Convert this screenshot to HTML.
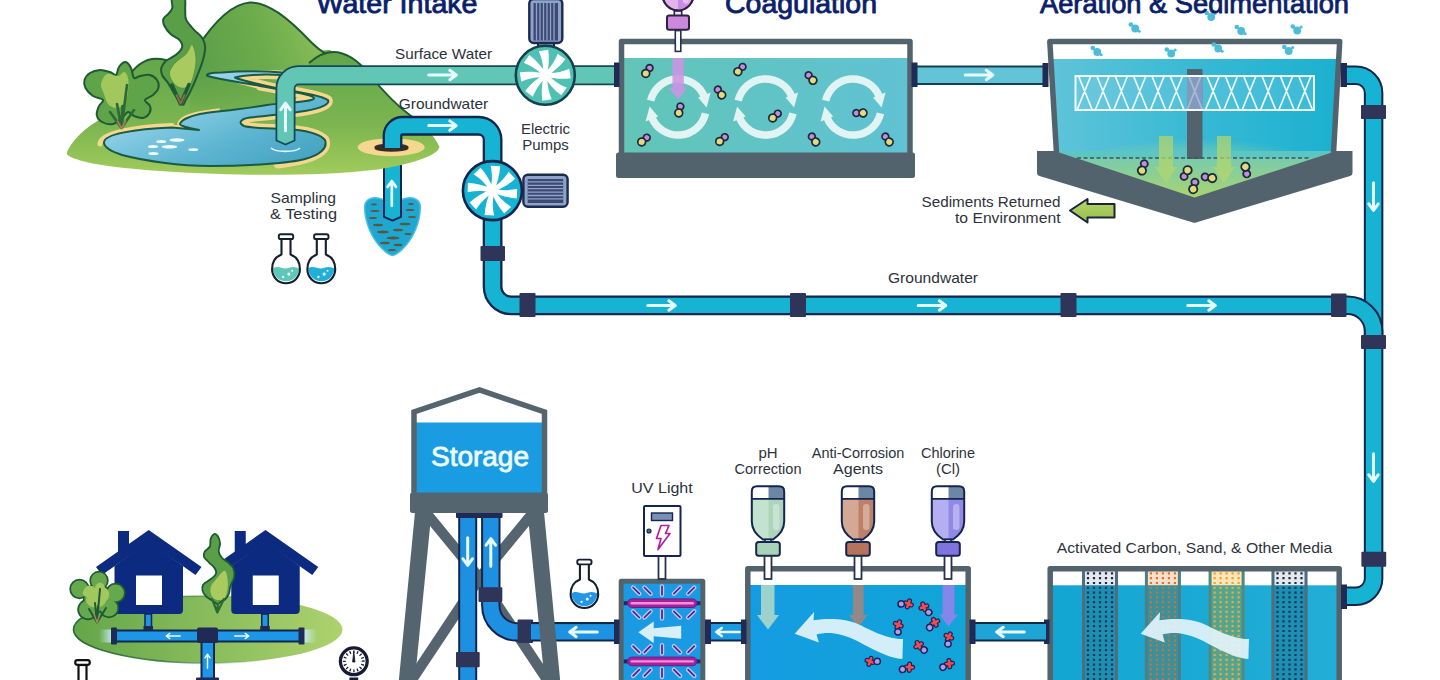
<!DOCTYPE html>
<html lang="en"><head><meta charset="utf-8"><title>Water Treatment Process</title>
<style>
html,body{margin:0;padding:0;background:#fff;overflow:hidden}
svg{display:block}
text{font-family:"Liberation Sans",sans-serif}
.lbl{font-size:15px;fill:#2d323c}
.ttl{font-size:28.500px;fill:#0c1f6b;stroke:#0c1f6b;stroke-width:.9px;stroke-linejoin:round}
</style></head><body>
<svg width="1440" height="680" viewBox="0 0 1440 680">
<defs>
<linearGradient id="gGround" gradientUnits="userSpaceOnUse" x1="0" y1="55" x2="0" y2="175"><stop offset="0" stop-color="#62a54a"/><stop offset=".6" stop-color="#7db650"/><stop offset="1" stop-color="#a2cb5c"/></linearGradient>
<linearGradient id="gHill" gradientUnits="userSpaceOnUse" x1="195" y1="60" x2="320" y2="20"><stop offset="0" stop-color="#5b9f49"/><stop offset=".55" stop-color="#6eac4d"/><stop offset="1" stop-color="#8abf57"/></linearGradient>
<linearGradient id="gLake" x1="0" y1="0" x2="1" y2="1"><stop offset="0" stop-color="#c2e8f6"/><stop offset=".3" stop-color="#93d2e8"/><stop offset=".65" stop-color="#5cb5d1"/><stop offset="1" stop-color="#3f9fbd"/></linearGradient>
<linearGradient id="gCoag" x1="0" y1="0" x2="1" y2="0"><stop offset="0" stop-color="#62c5b7"/><stop offset="1" stop-color="#60c2d3"/></linearGradient>
<linearGradient id="gAer" x1="0" y1="0" x2="1" y2="0"><stop offset="0" stop-color="#5fc4d9"/><stop offset=".5" stop-color="#38b9d4"/><stop offset="1" stop-color="#1bb1d0"/></linearGradient>
<linearGradient id="gSed" x1="0" y1="0" x2="0" y2="1"><stop offset="0" stop-color="#6fcab8"/><stop offset="1" stop-color="#a9d46f"/></linearGradient>
<linearGradient id="gChem" x1="0" y1="0" x2="1" y2="0"><stop offset="0" stop-color="#149ce2"/><stop offset="1" stop-color="#12a5d8"/></linearGradient>
<linearGradient id="gFilt" x1="0" y1="0" x2="1" y2="0"><stop offset="0" stop-color="#13a5d2"/><stop offset="1" stop-color="#22aed6"/></linearGradient>
<linearGradient id="gLawn" x1="0" y1="0" x2="1" y2="0"><stop offset="0" stop-color="#64a64a"/><stop offset="1" stop-color="#add26d"/></linearGradient>
<linearGradient id="gSedArr" x1="0" y1="0" x2="0" y2="1"><stop offset="0" stop-color="#b7d466"/><stop offset="1" stop-color="#97bf4e"/></linearGradient>
<g id="arr"><path d="M-14.300,0H12M6.800,-4.700L13.300,0L6.800,4.700" stroke="#e6fbff" stroke-width="3" fill="none" stroke-linecap="round" stroke-linejoin="round"/></g>
<g id="arrs"><path d="M-9,0H8M4,-3.2L8.5,0L4,3.2" stroke="#eefcff" stroke-width="1.8" fill="none" stroke-linecap="round" stroke-linejoin="round"/></g>
<g id="blades" fill="#fff">
<circle r="4.2"/><path id="bl" d="M-2.300,0C-1,-9 -2.500,-17 -5.200,-24.300L4.300,-25.300C5,-17 4,-9 1.700,0Z"/>
<use href="#bl" transform="rotate(45)"/><use href="#bl" transform="rotate(90)"/><use href="#bl" transform="rotate(135)"/><use href="#bl" transform="rotate(180)"/><use href="#bl" transform="rotate(225)"/><use href="#bl" transform="rotate(270)"/><use href="#bl" transform="rotate(315)"/>
</g>
<g id="pp"><circle cx="1.9" cy="-2.8" r="3.1" fill="#c88ae0" stroke="#1b2a3a" stroke-width="1.6"/><circle cx="-1.6" cy="2.3" r="3.6" fill="#e3da7e" stroke="#1b2a3a" stroke-width="1.6"/></g>
<g id="mol"><path d="M3.800,-3.200V3.200M.600,0H7" stroke="#16245c" stroke-width="5" stroke-linecap="round" transform="rotate(20 3.800 0)"/><path d="M3.800,-3.200V3.200M.600,0H7" stroke="#f04b50" stroke-width="2.700" stroke-linecap="round" transform="rotate(20 3.800 0)"/><circle cx="-3.400" cy="0" r="3.200" fill="#b79ae8" stroke="#16245c" stroke-width="1.500"/></g>
<pattern id="dotD" width="4.25" height="4.25" patternUnits="userSpaceOnUse"><rect x="1" y="1" width="2.2" height="2.2" fill="#27314f"/></pattern>
<pattern id="dotO" width="4.25" height="4.25" patternUnits="userSpaceOnUse"><rect x="1" y="1" width="2.2" height="2.2" fill="#e8743c"/></pattern>
<pattern id="dotY" width="4.25" height="4.25" patternUnits="userSpaceOnUse"><rect x="1" y="1" width="2.2" height="2.2" fill="#f2a22c"/></pattern>
<radialGradient id="gGlow" cx=".5" cy=".5" r=".5"><stop offset="0" stop-color="#b4d878" stop-opacity=".75"/><stop offset=".6" stop-color="#a6d68a" stop-opacity=".35"/><stop offset="1" stop-color="#9ad4a0" stop-opacity="0"/></radialGradient>
<linearGradient id="gLawnS" x1="0" y1="0" x2="1" y2="0"><stop offset="0" stop-color="#2a6a32"/><stop offset=".35" stop-color="#2a6a32" stop-opacity=".8"/><stop offset=".75" stop-color="#5a9a40" stop-opacity="0"/></linearGradient>
<linearGradient id="gGlowL" x1="0" y1="0" x2="1" y2="0"><stop offset="0" stop-color="#c8ecff" stop-opacity="0"/><stop offset="1" stop-color="#c8ecff" stop-opacity=".95"/></linearGradient><linearGradient id="gGlowR" x1="1" y1="0" x2="0" y2="0"><stop offset="0" stop-color="#c8ecff" stop-opacity="0"/><stop offset="1" stop-color="#c8ecff" stop-opacity=".95"/></linearGradient>
<linearGradient id="gFade" gradientUnits="userSpaceOnUse" x1="0" y1="62" x2="0" y2="118"><stop offset="0" stop-color="#fff"/><stop offset="1" stop-color="#000"/></linearGradient><mask id="mFade" maskUnits="userSpaceOnUse" x="60" y="-5" width="400" height="190"><rect x="60" y="-5" width="400" height="190" fill="url(#gFade)"/></mask>
</defs>
<rect width="1440" height="680" fill="#fff"/>
<!-- underground pipe & aquifer -->
<path d="M364.700,207C364.700,199 373,195.500 383,199.500H402C412,195.500 420.300,199 420.300,207C420.300,222 413.500,238 403,248.500C398,253.500 394.500,255.200 392.400,255.400C390.500,255.200 387,253.500 382,248.500C371.500,238 364.700,222 364.700,207Z" fill="#1fa6d1" stroke="#45bfe2" stroke-width="1.500"/>
<g fill="#58583c"><ellipse cx="375" cy="211" rx="4.500" ry="1.100"/><ellipse cx="373" cy="218" rx="4" ry="1.100"/><ellipse cx="410" cy="210" rx="4.500" ry="1.100"/><ellipse cx="412" cy="217" rx="4" ry="1.100"/><ellipse cx="378" cy="225" rx="5" ry="1.300"/><ellipse cx="405" cy="224" rx="5.500" ry="1.300"/><ellipse cx="383" cy="232" rx="6" ry="1.400"/><ellipse cx="398" cy="230" rx="5" ry="1.300"/><ellipse cx="393" cy="238" rx="6.500" ry="1.400"/><ellipse cx="385" cy="243" rx="5" ry="1.200"/><ellipse cx="398" cy="245" rx="4.500" ry="1.200"/><ellipse cx="392" cy="250" rx="4" ry="1.100"/><ellipse cx="374" cy="204.500" rx="3" ry="1"/><ellipse cx="411" cy="204" rx="3" ry="1"/><ellipse cx="408" cy="234" rx="3.500" ry="1.100"/></g>
<path d="M384,165V216.800L392.500,220.600L401,216.800V165" fill="#16b3d3" stroke="#12264e" stroke-width="2" stroke-linejoin="round"/>
<use href="#arr" transform="translate(391.800,193) rotate(-90) scale(.900)"/>
<!-- ===== landscape ===== -->
<g id="landscape">
<path d="M67,152C72,140 86,127 101,119L135,100L200,60L330,50L385,100L439.500,147C437,157 406,165 378,169.500C336,174.500 280,175.500 240,174.500C170,173 100,168 76,159C70,157 66,155 67,152Z" fill="url(#gGround)"/>
<!-- mid small hill -->
<path d="M100,122C112,96 130,62 152,59C168,57 190,68 205,85L205,125Z" fill="url(#gGround)"/>
<path d="M118,92C128,74 140,60.500 152,59C160,58 168,60 176,64" fill="none" stroke="#1f5a34" stroke-width="2"/>
<!-- big hill -->
<path d="M190,60C205,35 228,4 250,2.500C268,2 288,18 310,41C316,47 321,51 326,54.500L340,120L190,120Z" fill="url(#gHill)" mask="url(#mFade)"/>
<path d="M309,63C317,56 325,52 333,52C346,52 358,60 370,75C382,90 396,105 411,116C424,125 434,135 439.500,147L330,150L300,100Z" fill="url(#gGround)"/>
<path d="M197,48C210,28 230,4 250,2.500C268,2 288,18 310,41C316,47 321,51 326,54" fill="none" stroke="#1f5a34" stroke-width="2"/>
<path d="M309,63C317,56 325,52 333,52C346,52 358,60 370,75C382,90 396,105 411,116C418,121 424,126 428,131" fill="none" stroke="#1f5a34" stroke-width="2"/>
<!-- sand around lake -->
<path d="M100,144C100,133 135,127 172,125.500" fill="none" stroke="#f3d78d" stroke-width="5" stroke-linecap="round"/>
<path d="M104,142.500C104,134 135,129 172,127.500L199,130C190,128 180,126 180,124C181,120 190,116 200,114C206,113 212,112 220,111" fill="none" stroke="#f3d78d" stroke-width="5.500" stroke-linejoin="round"/>
<path d="M300,100.500C308,100 314,100 314,98.500C315,95.500 295,92 260,86M282,75C262,74 245,75 235,77.500C240,80 250,82.500 280,89C300,92 322,96 328,100C330,104 322,108 305,111C290,113.500 270,115.500 250,117.500C240,119 238,123 244,126C250,128 270,128.500 285,129C305,130 320,134 325,140C328,148 320,155 305,159C298,161 290,162.500 278,164" fill="none" stroke="#f3d78d" stroke-width="9" stroke-linejoin="round" stroke-linecap="round"/>
<!-- lake -->
<path d="M104,142.500C104,134 135,129 172,127.500L199,130C190,128 180,126 180,124C181,120 190,116 200,114C212,112 235,110 267,105C290,102 312,102 314,98.500C315,95.500 295,92 260,86C240,82 222,80 207.500,76C205,74 212,72.500 222,72.500C240,71 262,71 282,72.500L282,75C262,74 245,75 235,77.500C240,80 250,82.500 280,89C300,92 322,96 328,100C330,104 322,108 305,111C290,113.500 270,115.500 250,117.500C240,119 238,123 244,126C250,128 270,128.500 285,129C305,130 320,134 325,140C328,148 320,155 305,159C290,163 250,166 210,166C180,166 145,161 122,155C110,151 104,147 104,142.500Z" fill="url(#gLake)" stroke="#1a5a44" stroke-width="2" stroke-linejoin="round"/>
<g fill="#eefaff"><ellipse cx="177" cy="140" rx="7.500" ry="1.700"/><ellipse cx="161.200" cy="141.500" rx="5" ry="1.500"/><ellipse cx="153" cy="146.400" rx="5" ry="1.500"/><ellipse cx="169.400" cy="146.800" rx="7.800" ry="1.800"/><ellipse cx="193.300" cy="149.700" rx="5" ry="1.400"/><ellipse cx="153.500" cy="153.500" rx="5" ry="1.500"/></g>
<!-- tall tree -->
<path d="M181.2,104.0C178.2,101.3 171.4,88.2 168.3,83.4C165.2,78.7 163.6,78.2 162.4,75.5C161.2,72.8 160.8,70.0 161.4,67.5C162.1,65.0 163.8,62.8 166.3,60.6C168.8,58.5 173.7,56.9 176.3,54.6C179.0,52.3 181.7,49.2 182.2,46.7C182.7,44.2 181.2,41.9 179.2,39.7C177.2,37.6 172.8,36.1 170.3,33.8C167.8,31.5 165.6,28.3 164.4,25.8C163.2,23.3 162.8,20.9 163.4,18.9C164.1,16.9 166.8,15.7 168.3,13.9C169.8,12.1 171.6,10.7 172.3,7.9C173.0,5.1 170.3,-1.2 172.3,-3.0C174.3,-4.8 182.0,-5.2 184.2,-3.0C186.3,-0.9 184.9,6.1 185.2,9.9C185.5,13.7 184.7,16.6 186.2,19.9C187.7,23.2 191.4,26.8 194.1,29.8C196.8,32.8 200.3,34.9 202.1,37.7C203.9,40.5 204.9,43.1 205.1,46.7C205.3,50.4 204.3,55.1 203.1,59.6C201.9,64.1 199.8,69.2 198.1,73.5C196.4,77.8 195.2,81.1 193.2,85.4C191.2,89.7 188.2,96.2 186.2,99.3C184.2,102.4 184.2,106.7 181.2,104.0Z" fill="#5a9f48" stroke="#1f5a34" stroke-width="2" stroke-linejoin="round"/>
<path d="M192.2,44.7C190.5,43.8 188.9,51.0 186.0,54.0C183.1,57.0 177.8,59.8 175.0,63.0C172.2,66.2 169.4,70.0 169.3,73.5C169.2,77.0 172.4,81.6 174.3,84.0C176.2,86.4 178.9,87.5 181.0,88.0C183.1,88.5 185.1,88.4 187.0,87.0C188.9,85.6 191.0,84.0 192.5,79.4C194.0,74.8 196.2,65.4 196.1,59.6C196.0,53.8 193.9,45.6 192.2,44.7Z" fill="#a9ca5e" stroke="#4c8a3e" stroke-width=".800"/>
<path d="M180.500,104L172,85M180.500,104L189,84.500" stroke="#1f5a34" stroke-width="3.600" stroke-linecap="round" fill="none"/>
<path d="M180.500,103.500L176.500,95M180.500,103.500L184.500,95" stroke="#94694a" stroke-width="1.800" stroke-linecap="round" fill="none"/>
<!-- bush -->
<path d="M125.6,62.0C127.6,62.2 129.6,65.3 131.0,68.0C132.4,70.7 132.5,76.7 134.0,78.0C135.5,79.3 137.3,76.5 140.0,76.0C142.7,75.5 147.2,74.3 150.0,75.0C152.8,75.7 155.6,77.8 157.0,80.0C158.4,82.2 159.1,85.5 158.4,88.0C157.7,90.5 155.2,93.0 153.0,95.0C150.8,97.0 145.5,98.2 145.0,100.0C144.5,101.8 149.2,103.8 150.0,106.0C150.8,108.2 150.7,111.0 149.5,113.0C148.3,115.0 145.6,117.5 143.0,118.0C140.4,118.5 136.5,117.0 134.0,116.0C131.5,115.0 130.0,111.7 128.0,112.0C126.0,112.3 124.5,116.0 122.0,118.0C119.5,120.0 116.3,123.3 113.0,124.0C109.7,124.7 104.7,123.5 102.0,122.0C99.3,120.5 97.3,117.7 96.8,115.0C96.3,112.3 98.0,108.5 99.0,106.0C100.0,103.5 104.0,101.7 103.0,100.0C102.0,98.3 95.9,98.0 93.0,96.0C90.1,94.0 86.9,90.7 85.5,88.0C84.1,85.3 83.8,82.5 84.5,80.0C85.2,77.5 87.4,74.7 90.0,73.0C92.6,71.3 96.7,70.2 100.0,70.0C103.3,69.8 107.3,71.2 110.0,72.0C112.7,72.8 114.5,75.8 116.0,75.0C117.5,74.2 117.4,69.2 119.0,67.0C120.6,64.8 123.6,61.8 125.6,62.0Z" fill="#5fa449" stroke="#1f5a34" stroke-width="2" stroke-linejoin="round"/>
<path d="M107.0,74.0C109.8,72.7 115.2,76.3 118.0,76.0C120.8,75.7 122.3,71.7 124.0,72.0C125.7,72.3 127.3,74.7 128.0,78.0C128.7,81.3 128.7,87.7 128.0,92.0C127.3,96.3 126.0,101.3 124.0,104.0C122.0,106.7 118.7,108.0 116.0,108.0C113.3,108.0 110.0,106.3 108.0,104.0C106.0,101.7 105.2,97.3 104.0,94.0C102.8,90.7 100.5,87.3 101.0,84.0C101.5,80.7 104.2,75.3 107.0,74.0Z" fill="#a2c75c"/>
<path d="M121.500,128L110,112M121.500,128L117,104M121.500,128L127,85M121.500,128L134,110M121.500,128L122.500,106" stroke="#2a6a35" stroke-width="2.600" stroke-linecap="round" fill="none"/>
<path d="M121.500,128.500L117.500,121M121.500,128.500L125.500,121" stroke="#a87a55" stroke-width="1.800" stroke-linecap="round"/>
</g>
<!-- ===== top pipes, pumps ===== -->
<g id="toppipes" fill="none" stroke-linejoin="round">
<!-- surface water pipe -->
<path d="M285.500,141V88.300A13,13 0 0 1 298.500,75.300H616" stroke="#17485a" stroke-width="20"/>
<path d="M285.500,142V88.300A13,13 0 0 1 298.500,75.300H616" stroke="#62c6b5" stroke-width="16.400"/>
<path d="M276.400,140.500L285.500,144.500L294.600,140.500" stroke="#17485a" stroke-width="1.800" fill="#62c6b5"/>
<path d="M271,148C276,152.500 295,152.500 300,148" stroke="#e9f8fd" stroke-width="1.600"/>
<!-- hole sand + hole -->
<ellipse cx="391.200" cy="147.200" rx="33.500" ry="9" fill="#f5d88f" stroke="none"/>
<ellipse cx="391.500" cy="147.200" rx="17.200" ry="3.800" fill="#3b2b26" stroke="none"/>
<!-- groundwater pipe -->
<path d="M392.500,148V135.750A10,10 0 0 1 402.500,125.750H478.600A14,14 0 0 1 492.600,139.750V286.800A18.500,18.500 0 0 0 511.100,305.300H1340" stroke="#12264e" stroke-width="19.800"/>
<path d="M392.500,148V135.750A10,10 0 0 1 402.500,125.750H478.600A14,14 0 0 1 492.600,139.750V286.800A18.500,18.500 0 0 0 511.100,305.300H1340" stroke="#16b3d3" stroke-width="15.200"/>
<path d="M375,148.200C380,151.600 403,151.600 408,148.200" stroke="#3b2b26" stroke-width="2.200"/>
</g>

<use href="#arr" transform="translate(285.500,116.500) rotate(-90)"/>
<use href="#arr" transform="translate(443,75)"/>
<use href="#arr" transform="translate(443,125.600)"/>
<use href="#arr" transform="translate(662,305.500)"/>
<use href="#arr" transform="translate(932.500,305.500)"/>
<use href="#arr" transform="translate(1202,305.500)"/>
<!-- couplings -->
<g fill="#2f3558"><rect x="480.500" y="246" width="24.500" height="15" rx="1"/><rect x="519.500" y="293" width="16" height="24" rx="1"/><rect x="790" y="293" width="16" height="24" rx="1"/><rect x="1060.500" y="293" width="16" height="24" rx="1"/></g>
<!-- motor 1 -->
<rect x="538" y="40" width="16" height="8" fill="#8da3c9" stroke="#14254f" stroke-width="2"/>
<rect x="529.300" y="-1" width="33" height="44" rx="4.500" fill="#8da3c9" stroke="#1c2a4e" stroke-width="2.400"/>
<rect x="533.500" y="3" width="24.500" height="37.500" fill="#3c4a72"/>
<path d="M536.500,3V40.500M540,3V40.500M543.500,3V40.500M547,3V40.500M550.500,3V40.500M554,3V40.500" stroke="#8da3c9" stroke-width="1.300"/>
<!-- pump 1 -->
<circle cx="545.300" cy="75.200" r="29.500" fill="#4fc0b2" stroke="#17404f" stroke-width="2.600"/>
<use href="#blades" transform="translate(545.300,75.200) rotate(-3)"/>
<!-- motor 2 -->
<rect x="523.400" y="174.800" width="44.200" height="32" rx="4.500" fill="#8da3c9" stroke="#1c2a4e" stroke-width="2.400"/>
<rect x="527.700" y="179" width="35.500" height="24" fill="#3c4a72"/>
<path d="M527.700,181.900H563.200M527.700,185.300H563.200M527.700,188.700H563.200M527.700,192.100H563.200M527.700,195.500H563.200M527.700,198.900H563.200" stroke="#8da3c9" stroke-width="1.300"/>
<!-- pump 2 -->
<circle cx="492.400" cy="190.600" r="29.500" fill="#16b3d3" stroke="#12264e" stroke-width="2.600"/>
<use href="#blades" transform="translate(492.400,190.600) rotate(8)"/>
<!-- labels -->
<text class="lbl" x="443.500" y="59" text-anchor="middle" textLength="97" lengthAdjust="spacingAndGlyphs">Surface Water</text>
<text class="lbl" x="443.500" y="109.200" text-anchor="middle" textLength="89.500" lengthAdjust="spacingAndGlyphs">Groundwater</text>
<text class="lbl" x="545.500" y="134" text-anchor="middle">Electric</text>
<text class="lbl" x="545.500" y="150" text-anchor="middle">Pumps</text>
<text class="lbl" x="303.300" y="203" text-anchor="middle" textLength="65.500" lengthAdjust="spacingAndGlyphs">Sampling</text>
<text class="lbl" x="303.500" y="219.300" text-anchor="middle" textLength="67" lengthAdjust="spacingAndGlyphs">&amp; Testing</text>
<text class="lbl" x="933" y="283" text-anchor="middle" textLength="90" lengthAdjust="spacingAndGlyphs">Groundwater</text>
<text class="ttl" x="397" y="13" text-anchor="middle" textLength="161" lengthAdjust="spacingAndGlyphs">Water Intake</text>
<!-- ===== coagulation tank ===== -->
<g id="coag">
<rect x="621" y="41" width="289" height="113" fill="#fff"/>
<rect x="623" y="58" width="285" height="96" fill="url(#gCoag)"/>
<path d="M621.500,156V41.500H910V156" fill="none" stroke="#53636e" stroke-width="5.500" stroke-linejoin="round"/>
<rect x="616" y="152.500" width="299" height="25.500" rx="2.500" fill="#53636e"/>
<!-- pipe to aeration -->
<rect x="915" y="65.500" width="130" height="19.500" fill="#143f55"/>
<rect x="915" y="67.500" width="130" height="15.500" fill="#62c4d6"/>
<use href="#arr" transform="translate(979.500,75)"/>
<rect x="614" y="62.500" width="5.500" height="24.500" fill="#1f2a55"/><rect x="911.500" y="62.500" width="6" height="24.500" fill="#1f2a55"/>
<!-- doser -->
<circle cx="678" cy="-5" r="15.400" fill="#e2b4ec" stroke="#2e2148" stroke-width="2"/>
<path d="M678,-20A15.400,15.400 0 0 1 678,10.400Z" fill="#ca8ce0"/>
<ellipse cx="686" cy="-1" rx="3.500" ry="5" fill="#edc8f5" opacity=".8"/>
<circle cx="678" cy="-5" r="15.400" fill="none" stroke="#2e2148" stroke-width="2"/>
<rect x="674.300" y="11" width="7.400" height="5" fill="#f1e6f6" stroke="#2e2148" stroke-width="1.600"/>
<rect x="667" y="15.600" width="22" height="14.200" rx="2.200" fill="#cb88dd" stroke="#2e2148" stroke-width="2"/>
<rect x="675.300" y="30.600" width="5.500" height="20.800" fill="#fff" stroke="#27324a" stroke-width="1.600"/>
<!-- circulation rings -->
<defs><g id="ring" fill="none" stroke="#eaf8f7" stroke-width="7.500" opacity=".94">
<path d="M-27.400,-6.300A28.200,28.200 0 0 1 26.200,-10.500"/>
<path d="M27.400,6.300A28.200,28.200 0 0 1 -26.200,10.500"/>
<path d="M20,-9.500L32.500,-14.500L28.500,.500Z" fill="#eaf8f7" stroke="none"/>
<path d="M-20,9.500L-32.500,14.500L-28.500,-.500Z" fill="#eaf8f7" stroke="none"/>
</g></defs>
<use href="#ring" transform="translate(678.100,107)"/><use href="#ring" transform="translate(765.600,107)"/><use href="#ring" transform="translate(853.100,107)"/>
<path d="M672.500,58H683.800V88H687L678.200,99.600L668.700,88H672.500Z" fill="#cd93e2" opacity=".88"/>

<use href="#pp" transform="translate(647.5,71) rotate(0) scale(1.080)"/><use href="#pp" transform="translate(740,69.5) rotate(10) scale(1.080)"/><use href="#pp" transform="translate(811,78) rotate(-75) scale(1.080)"/><use href="#pp" transform="translate(720,92.5) rotate(-70) scale(1.080)"/><use href="#pp" transform="translate(679.5,110) rotate(-20) scale(1.080)"/><use href="#pp" transform="translate(775,116) rotate(15) scale(1.080)"/><use href="#pp" transform="translate(860,113) rotate(-125) scale(1.080)"/><use href="#pp" transform="translate(644,140) rotate(15) scale(1.080)"/><use href="#pp" transform="translate(722,139.5) rotate(15) scale(1.080)"/><use href="#pp" transform="translate(814,139.5) rotate(-70) scale(1.080)"/><use href="#pp" transform="translate(887.5,139.5) rotate(-70) scale(1.080)"/>
<text class="ttl" x="801" y="13" text-anchor="middle" textLength="152" lengthAdjust="spacingAndGlyphs">Coagulation</text>
</g>
<!-- ===== aeration & sedimentation ===== -->
<g id="aer">
<g fill="none" stroke-linejoin="round">
<path d="M1345,75.300H1356A17.600,17.600 0 0 1 1373.600,92.900V578.600A17.600,17.600 0 0 1 1356,596.200H1345" stroke="#12264e" stroke-width="19.500"/>
<path d="M1345,75.300H1356A17.600,17.600 0 0 1 1373.600,92.900V578.600A17.600,17.600 0 0 1 1356,596.200H1345" stroke="#16b3d3" stroke-width="15.500"/>
<path d="M1338,305.300H1347.600A26,26 0 0 1 1373.600,331.300V340" stroke="#12264e" stroke-width="19.500"/>
<path d="M1336,305.300H1347.600A26,26 0 0 1 1373.600,331.300V342" stroke="#16b3d3" stroke-width="15.500"/>
</g>
<g fill="#2f3558"><rect x="1361" y="105" width="25" height="14" rx="1"/><rect x="1331" y="293.500" width="15.500" height="23.500" rx="1"/><rect x="1361" y="335" width="25" height="14" rx="1"/><rect x="1361.400" y="551.800" width="24.800" height="15" rx="1"/></g>
<use href="#arr" transform="translate(1373.500,197) rotate(90)"/>
<use href="#arr" transform="translate(1373.500,468) rotate(90)"/>
<path d="M1049,41.500H1340.500L1334,153H1057Z" fill="#fff"/>
<path d="M1051,59H1338.500L1333.500,153H1056.500Z" fill="url(#gAer)"/>
<clipPath id="aerclip"><path d="M1051,59H1338.500L1333.500,153H1056.500Z"/></clipPath>
<ellipse cx="1195" cy="168" rx="125" ry="30" fill="url(#gGlow)" clip-path="url(#aerclip)"/>
<path d="M1037,151H1352.500V173Q1352.500,175.500 1350,176L1196,222.500Q1194.500,223 1193,222.500L1039.500,176Q1037,175.500 1037,173Z" fill="#53636e"/>
<path d="M1055,151H1336L1194.500,197.500Z" fill="url(#gSed)"/>
<path d="M1055,151H1336L1315,158H1075Z" fill="#4ac2d0" opacity=".55"/>
<path d="M1056.500,153L1049.800,41.500H1339.700L1333.500,153" fill="none" stroke="#53636e" stroke-width="5.500" stroke-linejoin="round"/>
<rect x="1042.500" y="63" width="6" height="24" fill="#1f2a55"/><rect x="1340.500" y="63" width="6.500" height="24" fill="#1f2a55"/>
<rect x="1187" y="69" width="15.500" height="90" fill="#53636e"/>
<rect x="1075.5" y="76" width="238.5" height="34" fill="#bfe6f5" fill-opacity=".18" stroke="#f0fbff" stroke-width="2"/>
<path d="M1077.0,110L1090.8,76M1078.5,76L1092.3,110M1095.3,110L1109.2,76M1096.8,76L1110.7,110M1113.7,110L1127.5,76M1115.2,76L1129.0,110M1132.0,110L1145.9,76M1133.5,76L1147.4,110M1150.4,110L1164.2,76M1151.9,76L1165.7,110M1168.7,110L1182.6,76M1170.2,76L1184.1,110M1187.1,110L1200.9,76M1188.6,76L1202.4,110M1205.4,110L1219.3,76M1206.9,76L1220.8,110M1223.8,110L1237.6,76M1225.3,76L1239.1,110M1242.1,110L1256.0,76M1243.6,76L1257.5,110M1260.5,110L1274.3,76M1262.0,76L1275.8,110M1278.8,110L1292.7,76M1280.3,76L1294.2,110M1297.2,110L1311.0,76M1298.7,76L1312.5,110" stroke="#f0fbff" stroke-width="1.700" fill="none"/>
<rect x="1187" y="77" width="15.500" height="32" fill="#8fa6cc" opacity=".75"/>
<path d="M1077,158H1311" stroke="#3d5560" stroke-width="1.300" stroke-dasharray="4 2.500"/>
<path d="M1159,136H1173V167H1177L1166,183L1155,167H1159Z" fill="#b4d66c" opacity=".72"/>
<path d="M1217,136H1231V167H1235L1224,183L1213,167H1217Z" fill="#b4d66c" opacity=".72"/>
<use href="#pp" transform="translate(1143,167.5) rotate(-15) scale(1.15)"/>
<use href="#pp" transform="translate(1186,173) rotate(175) scale(1.15)"/>
<use href="#pp" transform="translate(1209,177.5) rotate(-115) scale(1.15)"/>
<use href="#pp" transform="translate(1194,186) rotate(-20) scale(1.15)"/>
<use href="#pp" transform="translate(1246,170) rotate(135) scale(1.15)"/>
<g fill="#4dbcd9"><circle cx="1135.2" cy="28.5" r="3.900"/><circle cx="1130.8" cy="24.5" r="2.300"/><circle cx="1139.2" cy="31.3" r="1.500"/><circle cx="1211.2" cy="17" r="3.900"/><circle cx="1206.8" cy="13" r="2.300"/><circle cx="1215.2" cy="13.5" r="1.500"/><circle cx="1241.2" cy="31" r="3.900"/><circle cx="1236.8" cy="27" r="2.300"/><circle cx="1245.2" cy="33.8" r="1.500"/><circle cx="1297.2" cy="30.5" r="3.900"/><circle cx="1292.8" cy="26.5" r="2.300"/><circle cx="1301.2" cy="27.0" r="1.500"/><circle cx="1097.2" cy="52" r="3.900"/><circle cx="1092.8" cy="48" r="2.300"/><circle cx="1101.2" cy="54.8" r="1.500"/><circle cx="1171.2" cy="53.5" r="3.900"/><circle cx="1166.8" cy="49.5" r="2.300"/><circle cx="1175.2" cy="50.0" r="1.500"/><circle cx="1218.2" cy="48.5" r="3.900"/><circle cx="1213.8" cy="44.5" r="2.300"/><circle cx="1222.2" cy="51.3" r="1.500"/><circle cx="1288.7" cy="51" r="3.900"/><circle cx="1284.3" cy="47" r="2.300"/><circle cx="1292.7" cy="47.5" r="1.500"/></g>
<path d="M1070,210.500L1087.500,199V204H1114.500V217.500H1087.500V222.500Z" fill="url(#gSedArr)" stroke="#1c2340" stroke-width="2" stroke-linejoin="round"/>
<text class="lbl" x="1060.500" y="207" text-anchor="end" textLength="139" lengthAdjust="spacingAndGlyphs">Sediments Returned</text>
<text class="lbl" x="1060.500" y="223" text-anchor="end" textLength="105.500" lengthAdjust="spacingAndGlyphs">to Environment</text>
<text class="ttl" x="1194.500" y="13" text-anchor="middle" textLength="309" lengthAdjust="spacingAndGlyphs">Aeration &amp; Sedimentation</text>
</g>
<!-- ===== storage tower ===== -->
<g id="tower">
<path d="M427,514L479.500,578L532,514M409,684L479.500,578L550,684" stroke="#55656f" stroke-width="10.500" fill="none" stroke-linejoin="round"/>
<g fill="none">
<path d="M467.700,515V684" stroke="#12264e" stroke-width="19"/><path d="M467.700,515V684" stroke="#1e90e2" stroke-width="15"/>
<path d="M490.800,515V605.400A26.500,26.500 0 0 0 517.300,631.900H532" stroke="#12264e" stroke-width="19.400"/><path d="M490.800,515V605.400A26.500,26.500 0 0 0 517.300,631.900H532" stroke="#1e90e2" stroke-width="15.400"/>
</g>
<rect x="456" y="512" width="46.500" height="6" rx="1" fill="#1f2a55"/>
<g fill="#2f3558"><rect x="478.500" y="587.300" width="23.800" height="14.700" rx="1"/><rect x="517.600" y="619.600" width="15.500" height="23.400" rx="1"/><rect x="456" y="652" width="23.700" height="15.200" rx="1"/></g>
<use href="#arr" transform="translate(467.700,552) rotate(90)"/><use href="#arr" transform="translate(490.800,552) rotate(-90)"/>
<!-- ===== filter tank ===== -->
<g id="filt">
<rect x="1050" y="569" width="289" height="115" fill="#fff"/>
<rect x="1052" y="585.300" width="286" height="100" fill="url(#gFilt)"/>
<rect x="1082" y="571" width="36" height="14.500" fill="#e6e8ec"/>
<rect x="1082" y="585.300" width="36" height="100" fill="#1d8fb2"/>
<path d="M1088.0,572.3V585.3M1094.0,572.3V585.3M1100.0,572.3V585.3M1106.0,572.3V585.3M1112.0,572.3V585.3" stroke="#1c2a4a" stroke-width="2.200" stroke-dasharray="2.200 2.600" fill="none"/>
<path d="M1088.0,586.7V684M1094.0,586.7V684M1100.0,586.7V684M1106.0,586.7V684M1112.0,586.7V684" stroke="#163a5c" stroke-width="2.200" stroke-dasharray="2.200 2.600" fill="none"/>
<path d="M1083.5,571V684M1116.5,571V684" stroke="#4d6e80" stroke-width="3"/>
<rect x="1144.9" y="571" width="36" height="14.500" fill="#fbe0c8"/>
<rect x="1144.9" y="585.300" width="36" height="100" fill="#3d9098"/>
<path d="M1150.9,572.3V585.3M1156.9,572.3V585.3M1162.9,572.3V585.3M1168.9,572.3V585.3M1174.9,572.3V585.3" stroke="#e0703a" stroke-width="2.200" stroke-dasharray="2.200 2.600" fill="none"/>
<path d="M1150.9,586.7V684M1156.9,586.7V684M1162.9,586.7V684M1168.9,586.7V684M1174.9,586.7V684" stroke="#a87c58" stroke-width="2.200" stroke-dasharray="2.200 2.600" fill="none"/>
<path d="M1146.4,571V684M1179.4,571V684" stroke="#4d7f88" stroke-width="3"/>
<rect x="1208.6" y="571" width="36" height="14.500" fill="#fde6b8"/>
<rect x="1208.6" y="585.300" width="36" height="100" fill="#55a58e"/>
<path d="M1214.6,572.3V585.3M1220.6,572.3V585.3M1226.6,572.3V585.3M1232.6,572.3V585.3M1238.6,572.3V585.3" stroke="#f0a030" stroke-width="2.200" stroke-dasharray="2.200 2.600" fill="none"/>
<path d="M1214.6,586.7V684M1220.6,586.7V684M1226.6,586.7V684M1232.6,586.7V684M1238.6,586.7V684" stroke="#d8b050" stroke-width="2.200" stroke-dasharray="2.200 2.600" fill="none"/>
<path d="M1210.1,571V684M1243.1,571V684" stroke="#4d8a86" stroke-width="3"/>
<rect x="1271.5" y="571" width="36" height="14.500" fill="#e6e8ec"/>
<rect x="1271.5" y="585.300" width="36" height="100" fill="#1d8fb2"/>
<path d="M1277.5,572.3V585.3M1283.5,572.3V585.3M1289.5,572.3V585.3M1295.5,572.3V585.3M1301.5,572.3V585.3" stroke="#1c2a4a" stroke-width="2.200" stroke-dasharray="2.200 2.600" fill="none"/>
<path d="M1277.5,586.7V684M1283.5,586.7V684M1289.5,586.7V684M1295.5,586.7V684M1301.5,586.7V684" stroke="#163a5c" stroke-width="2.200" stroke-dasharray="2.200 2.600" fill="none"/>
<path d="M1273.0,571V684M1306.0,571V684" stroke="#4d6e80" stroke-width="3"/>
<path id="bigarr" d="M794.700,633.800L814.100,612.100L813.500,620.300C822,619 828,618.800 833,619.100C840,619.500 845,620 850.600,621.500C858,623.500 862,626 868.200,629.100C875,632.500 880,634.500 885.900,636.200C892,638 897,639 903,639.100L902.400,659.100C896,658.500 891,657 885.900,655C879,652.500 874,650 868.200,646.800C861,643 856,640 850.600,637.900C844,635.500 839,634 833,633.200C827,632.500 822,633 816.500,634.400L818.800,642.600Z" fill="#e2f3fb" opacity=".93" transform="translate(346,0)"/>
<path d="M1050.200,684V568.800H1339.200V684" fill="none" stroke="#53636e" stroke-width="5.500" stroke-linejoin="round"/>
<rect x="1044" y="619.500" width="5.500" height="24.500" fill="#1f2a55"/><rect x="1341" y="584.500" width="6" height="24.500" fill="#1f2a55"/>
<text class="lbl" x="1194.500" y="552.500" text-anchor="middle" textLength="275.500" lengthAdjust="spacingAndGlyphs">Activated Carbon, Sand, &amp; Other Media</text>
</g>
<!-- ===== chem tank ===== -->
<g id="chem">
<rect x="973" y="622" width="73" height="19.500" fill="#12264e"/><rect x="973" y="624" width="73" height="15.500" fill="#1ea5d6"/>
<use href="#arr" transform="translate(1010,632) rotate(180)"/>
<rect x="708" y="622" width="40" height="19.500" fill="#12264e"/><rect x="708" y="624" width="40" height="15.500" fill="#1a9ae3"/>
<use href="#arr" transform="translate(727.500,632) rotate(180) scale(.85)"/>
<rect x="748" y="569" width="220" height="115" fill="#fff"/>
<rect x="750" y="585" width="216" height="100" fill="url(#gChem)"/>
<path d="M761,585H774.500V615H779L768,629.500L757,615H761Z" fill="#b5dcc8" opacity=".85"/>
<path d="M853,585H863.500V615H867.600L858.300,627L848.800,615H853Z" fill="#a3857c" opacity=".9"/>
<path d="M942.500,585H954.500V614.500H958L948.500,626.500L939.300,614.500H942.500Z" fill="#8d84ea" opacity=".92"/>
<path d="M794.700,633.800L814.100,612.100L813.500,620.300C822,619 828,618.800 833,619.100C840,619.500 845,620 850.600,621.500C858,623.500 862,626 868.200,629.100C875,632.500 880,634.500 885.900,636.200C892,638 897,639 903,639.100L902.400,659.100C896,658.500 891,657 885.900,655C879,652.500 874,650 868.200,646.800C861,643 856,640 850.600,637.900C844,635.500 839,634 833,633.200C827,632.500 822,633 816.500,634.400L818.800,642.600Z" fill="#e2f3fb" opacity=".93"/>
<use href="#mol" transform="translate(904.6,603.9) rotate(0)"/>
<use href="#mol" transform="translate(926.4,609.8) rotate(-131)"/>
<use href="#mol" transform="translate(898.1,628.5) rotate(-87)"/>
<use href="#mol" transform="translate(932.1,625) rotate(-45)"/>
<use href="#mol" transform="translate(948.4,640.5) rotate(-83)"/>
<use href="#mol" transform="translate(921.5,647.8) rotate(-139)"/>
<use href="#mol" transform="translate(873.8,661.4) rotate(180)"/>
<use href="#mol" transform="translate(905.8,668.3) rotate(-17)"/>
<use href="#mol" transform="translate(946,665.5) rotate(-28)"/>
<path d="M747.800,684V568.800H968.200V684" fill="none" stroke="#53636e" stroke-width="5.500" stroke-linejoin="round"/>
<rect x="741" y="619.500" width="5.500" height="24.500" fill="#1f2a55"/><rect x="969.500" y="619.500" width="6" height="24.500" fill="#1f2a55"/>
<g transform="translate(768,0)"><path d="M-16.200,491.500Q-16.200,486.300 -11,486.300H11Q16.200,486.300 16.200,491.500V521.500C16.200,531.500 9.500,536.500 5,539.500H-5C-9.500,536.500 -16.200,531.500 -16.200,521.500Z" fill="#fff"/><clipPath id="bc768"><path d="M-16.200,491.500Q-16.200,486.300 -11,486.300H11Q16.200,486.300 16.200,491.500V521.500C16.200,531.500 9.500,536.500 5,539.500H-5C-9.500,536.500 -16.200,531.500 -16.200,521.500Z"/></clipPath><g clip-path="url(#bc768)"><rect x="-17" y="498.800" width="34" height="42" fill="#c4e3cf"/><rect x="0.500" y="498.800" width="17" height="42" fill="#acd5bb"/><rect x="0.500" y="486" width="17" height="12.800" fill="#6c87a6"/><rect x="5" y="504" width="6.500" height="26" rx="3.200" fill="#fff" opacity=".35"/></g><path d="M-16.200,498.800H16.200" stroke="#14254f" stroke-width="1.800"/><path d="M-16.200,491.500Q-16.200,486.300 -11,486.300H11Q16.200,486.300 16.200,491.500V521.500C16.200,531.500 9.500,536.500 5,539.500H-5C-9.500,536.500 -16.200,531.500 -16.200,521.500Z" fill="none" stroke="#14254f" stroke-width="2"/><rect x="-3" y="539.500" width="6" height="4" fill="#fff" stroke="#14254f" stroke-width="1.500"/><rect x="-11.800" y="542" width="23.600" height="13.800" rx="2.500" fill="#a9d3b8" stroke="#14254f" stroke-width="2"/><rect x="-3.500" y="556" width="7" height="23" fill="#fff" stroke="#27324a" stroke-width="1.800"/></g>
<g transform="translate(858,0)"><path d="M-16.200,491.500Q-16.200,486.300 -11,486.300H11Q16.200,486.300 16.200,491.500V521.500C16.200,531.500 9.500,536.500 5,539.500H-5C-9.500,536.500 -16.200,531.500 -16.200,521.500Z" fill="#fff"/><clipPath id="bc858"><path d="M-16.200,491.500Q-16.200,486.300 -11,486.300H11Q16.200,486.300 16.200,491.500V521.500C16.200,531.500 9.500,536.500 5,539.500H-5C-9.500,536.500 -16.200,531.500 -16.200,521.500Z"/></clipPath><g clip-path="url(#bc858)"><rect x="-17" y="498.800" width="34" height="42" fill="#d4a894"/><rect x="0.500" y="498.800" width="17" height="42" fill="#bd8068"/><rect x="0.500" y="486" width="17" height="12.800" fill="#6c87a6"/><rect x="5" y="504" width="6.500" height="26" rx="3.200" fill="#fff" opacity=".35"/></g><path d="M-16.200,498.800H16.200" stroke="#14254f" stroke-width="1.800"/><path d="M-16.200,491.500Q-16.200,486.300 -11,486.300H11Q16.200,486.300 16.200,491.500V521.500C16.200,531.500 9.500,536.500 5,539.500H-5C-9.500,536.500 -16.200,531.500 -16.200,521.500Z" fill="none" stroke="#14254f" stroke-width="2"/><rect x="-3" y="539.500" width="6" height="4" fill="#fff" stroke="#14254f" stroke-width="1.500"/><rect x="-11.800" y="542" width="23.600" height="13.800" rx="2.500" fill="#b6725b" stroke="#14254f" stroke-width="2"/><rect x="-3.500" y="556" width="7" height="23" fill="#fff" stroke="#27324a" stroke-width="1.800"/></g>
<g transform="translate(948,0)"><path d="M-16.200,491.500Q-16.200,486.300 -11,486.300H11Q16.200,486.300 16.200,491.500V521.500C16.200,531.500 9.500,536.500 5,539.500H-5C-9.500,536.500 -16.200,531.500 -16.200,521.500Z" fill="#fff"/><clipPath id="bc948"><path d="M-16.200,491.500Q-16.200,486.300 -11,486.300H11Q16.200,486.300 16.200,491.500V521.500C16.200,531.500 9.500,536.500 5,539.500H-5C-9.500,536.500 -16.200,531.500 -16.200,521.500Z"/></clipPath><g clip-path="url(#bc948)"><rect x="-17" y="498.800" width="34" height="42" fill="#b6aef2"/><rect x="0.500" y="498.800" width="17" height="42" fill="#9288e6"/><rect x="0.500" y="486" width="17" height="12.800" fill="#6c87a6"/><rect x="5" y="504" width="6.500" height="26" rx="3.200" fill="#fff" opacity=".35"/></g><path d="M-16.200,498.800H16.200" stroke="#14254f" stroke-width="1.800"/><path d="M-16.200,491.500Q-16.200,486.300 -11,486.300H11Q16.200,486.300 16.200,491.500V521.500C16.200,531.500 9.500,536.500 5,539.500H-5C-9.500,536.500 -16.200,531.500 -16.200,521.500Z" fill="none" stroke="#14254f" stroke-width="2"/><rect x="-3" y="539.500" width="6" height="4" fill="#fff" stroke="#14254f" stroke-width="1.500"/><rect x="-11.800" y="542" width="23.600" height="13.800" rx="2.500" fill="#7f73de" stroke="#14254f" stroke-width="2"/><rect x="-3.500" y="556" width="7" height="23" fill="#fff" stroke="#27324a" stroke-width="1.800"/></g>
<text class="lbl" x="768" y="457.500" text-anchor="middle">pH</text>
<text class="lbl" x="768" y="473.500" text-anchor="middle" textLength="67" lengthAdjust="spacingAndGlyphs">Correction</text>
<text class="lbl" x="858" y="457.500" text-anchor="middle" textLength="92.500" lengthAdjust="spacingAndGlyphs">Anti-Corrosion</text>
<text class="lbl" x="858" y="473.500" text-anchor="middle" textLength="50" lengthAdjust="spacingAndGlyphs">Agents</text>
<text class="lbl" x="948" y="457.500" text-anchor="middle" textLength="54" lengthAdjust="spacingAndGlyphs">Chlorine</text>
<text class="lbl" x="948" y="473.500" text-anchor="middle">(Cl)</text>
</g>
<!-- ===== UV unit ===== -->
<g id="uv">
<rect x="531" y="622" width="85" height="19.500" fill="#12264e"/><rect x="531" y="624.100" width="85" height="15.400" fill="#1e92e2"/>
<use href="#arr" transform="translate(583,632) rotate(180)"/>
<rect x="621" y="581" width="82" height="104" fill="#1b9ae4"/>
<path d="M633.1,587.5L639.3,593.7M644.4,587.5L650.6,593.7M662,586.4V594.8M673.9,593.7L680.1,587.5M688.1,593.7L694.3,587.5M633.1,611.3L639.3,617.5M644.4,617.5L650.6,611.3M662,610.2V618.6M673.9,611.3L680.1,617.5M688.1,617.5L694.3,611.3M633.1,646.2L639.3,652.4M644.4,652.4L650.6,646.2M662,645.1V653.5M673.9,646.2L680.1,652.4M688.1,652.4L694.3,646.2M633.1,675.9L639.3,669.7M644.4,675.9L650.6,669.7M662,668.6V677.0M673.9,669.7L680.1,675.9M688.1,669.7L694.3,675.9" stroke="#bccaf7" stroke-width="4.400" stroke-linecap="round"/>
<path d="M633.1,587.5L639.3,593.7M644.4,587.5L650.6,593.7M662,586.4V594.8M673.9,593.7L680.1,587.5M688.1,593.7L694.3,587.5M633.1,611.3L639.3,617.5M644.4,617.5L650.6,611.3M662,610.2V618.6M673.9,611.3L680.1,617.5M688.1,617.5L694.3,611.3M633.1,646.2L639.3,652.4M644.4,652.4L650.6,646.2M662,645.1V653.5M673.9,646.2L680.1,652.4M688.1,652.4L694.3,646.2M633.1,675.9L639.3,669.7M644.4,675.9L650.6,669.7M662,668.6V677.0M673.9,669.7L680.1,675.9M688.1,669.7L694.3,675.9" stroke="#5c1a84" stroke-width="1.700" stroke-linecap="round"/>
<rect x="623.500" y="601.2" width="77.500" height="4" fill="#1f2a55"/>
<rect x="627.500" y="598.9" width="69.500" height="8.600" rx="4.300" fill="#a5219c" stroke="#5a2390" stroke-width="1"/>
<rect x="630.500" y="602.0" width="63.500" height="2.400" rx="1.200" fill="#ff8ad8"/>
<rect x="623.500" y="659.4" width="77.500" height="4" fill="#1f2a55"/>
<rect x="627.500" y="657.1" width="69.500" height="8.600" rx="4.300" fill="#a5219c" stroke="#5a2390" stroke-width="1"/>
<rect x="630.500" y="660.2" width="63.500" height="2.400" rx="1.200" fill="#ff8ad8"/>
<path d="M638.300,632.300L653.700,621.500V628.300L681.200,625.800V638.800L653.700,636.300V643Z" fill="#e6f6fb" opacity=".92"/>
<path d="M621.200,684V581.200H702.800V684" fill="none" stroke="#53636e" stroke-width="5" stroke-linejoin="round"/>
<rect x="614" y="619.500" width="5.500" height="24.500" fill="#1f2a55"/><rect x="705" y="619.500" width="6" height="24.500" fill="#1f2a55"/>
<rect x="658.500" y="555" width="7" height="24" fill="#fff" stroke="#27324a" stroke-width="1.800"/>
<rect x="644" y="506" width="36.500" height="50" rx="1" fill="#fff" stroke="#14254f" stroke-width="2"/>
<rect x="651.500" y="513" width="21" height="7.500" fill="#7b90b6" stroke="#14254f" stroke-width="1.400"/>
<circle cx="649" cy="531" r="2" fill="#53636e" stroke="#14254f" stroke-width="1.200"/>
<path d="M661,525.500H669L665.500,533.500H670L658,549.500L661,538.500H656.500Z" fill="#fff" stroke="#b3209d" stroke-width="1.700" stroke-linejoin="round"/>
<text class="lbl" x="662" y="492.500" text-anchor="middle" textLength="61.500" lengthAdjust="spacingAndGlyphs">UV Light</text>
<g transform="translate(584.400,594.300) scale(.950)"><path d="M-4.700,-32V-15.500C-11,-13 -14.500,-7 -14.500,0A14.500,14.500 0 0 0 14.500,0C14.500,-7 11,-13 4.700,-15.500V-32Z" fill="#fff"/><path d="M-13.500,-1C-8,-5 -3,1 3,-1.500C8,-3.500 11,-2 13.500,-1A13.500,13.500 0 0 1 -13.500,-1Z" fill="#2397e6"/><circle cx="3" cy="5" r="1.600" fill="#fff"/><circle cx="-3" cy="8" r="1.200" fill="#fff"/><circle cx="6.500" cy="1.500" r="1" fill="#fff"/><path d="M-4.700,-32V-15.500C-11,-13 -14.500,-7 -14.500,0A14.500,14.500 0 0 0 14.500,0C14.500,-7 11,-13 4.700,-15.500V-32Z" fill="none" stroke="#14202e" stroke-width="2.200" stroke-linejoin="round"/><rect x="-7.500" y="-36.500" width="15" height="5" rx="2" fill="#fff" stroke="#14202e" stroke-width="2"/></g>
</g>
<g id="flasks"><g transform="translate(286,269.300) scale(.96)"><path d="M-4.700,-32V-15.500C-11,-13 -14.500,-7 -14.500,0A14.500,14.500 0 0 0 14.500,0C14.500,-7 11,-13 4.700,-15.500V-32Z" fill="#fff"/><path d="M-13.500,-1C-8,-5 -3,1 3,-1.500C8,-3.500 11,-2 13.500,-1A13.500,13.500 0 0 1 -13.500,-1Z" fill="#5cc8b8"/><circle cx="3" cy="5" r="1.600" fill="#fff"/><circle cx="-3" cy="8" r="1.200" fill="#fff"/><circle cx="6.500" cy="1.500" r="1" fill="#fff"/><path d="M-4.700,-32V-15.500C-11,-13 -14.500,-7 -14.500,0A14.500,14.500 0 0 0 14.500,0C14.500,-7 11,-13 4.700,-15.500V-32Z" fill="none" stroke="#14202e" stroke-width="2.200" stroke-linejoin="round"/><rect x="-7.500" y="-36.500" width="15" height="5" rx="2" fill="#fff" stroke="#14202e" stroke-width="2"/></g><g transform="translate(321.300,269.300) scale(.96)"><path d="M-4.700,-32V-15.500C-11,-13 -14.500,-7 -14.500,0A14.500,14.500 0 0 0 14.500,0C14.500,-7 11,-13 4.700,-15.500V-32Z" fill="#fff"/><path d="M-13.500,-1C-8,-5 -3,1 3,-1.500C8,-3.500 11,-2 13.500,-1A13.500,13.500 0 0 1 -13.500,-1Z" fill="#1fb0d8"/><circle cx="3" cy="5" r="1.600" fill="#fff"/><circle cx="-3" cy="8" r="1.200" fill="#fff"/><circle cx="6.500" cy="1.500" r="1" fill="#fff"/><path d="M-4.700,-32V-15.500C-11,-13 -14.500,-7 -14.500,0A14.500,14.500 0 0 0 14.500,0C14.500,-7 11,-13 4.700,-15.500V-32Z" fill="none" stroke="#14202e" stroke-width="2.200" stroke-linejoin="round"/><rect x="-7.500" y="-36.500" width="15" height="5" rx="2" fill="#fff" stroke="#14202e" stroke-width="2"/></g></g>
<path d="M415,512H431.500L414.500,684H398.500Z" fill="#55656f"/><path d="M527.500,512H544L560.500,684H545Z" fill="#55656f"/>
<path d="M414,493V412L479.500,390L545,412V493Z" fill="#fff"/>
<rect x="416" y="422.500" width="126" height="71" fill="#1a9ce3"/>
<path d="M414,494V412L479.500,390L544.500,412V494" fill="none" stroke="#55656f" stroke-width="5.500" stroke-linejoin="miter"/>
<rect x="410" y="492.500" width="138" height="20.500" rx="2.500" fill="#55656f"/>
<text x="480" y="465.500" text-anchor="middle" font-size="27" fill="#eefaff" stroke="#eefaff" stroke-width=".800" textLength="98" lengthAdjust="spacingAndGlyphs">Storage</text>
</g>
<!-- ===== houses ===== -->
<g id="houses">
<ellipse cx="208" cy="629.500" rx="134.500" ry="33.500" fill="url(#gLawn)" stroke="url(#gLawnS)" stroke-width="1.600"/>
<g transform="translate(0,0)" fill="#0c2b80"><rect x="118" y="531" width="11" height="22"/><path d="M148.750,530L201.500,567L195.500,575L148.750,542L102,575L96,567Z"/><path d="M114.500,566L148.750,541L183,566V610Q183,614 179,614H118.500Q114.500,614 114.500,610Z"/><rect x="136" y="575.500" width="26" height="29.500" fill="#fff"/><rect x="145" y="614" width="6.500" height="14" fill="#1e96e8" stroke="#12264e" stroke-width="1.500"/></g>
<g stroke="#1f5a34" stroke-width="3.400" fill="#1f5a34"><circle cx="99" cy="580.500" r="8"/><circle cx="79.500" cy="589" r="8.500"/><circle cx="115.500" cy="593" r="8.500"/><circle cx="88" cy="609.500" r="9"/><circle cx="109" cy="608" r="8.500"/><circle cx="97.500" cy="598" r="13"/></g>
<g fill="#66a84c"><circle cx="99" cy="580.500" r="8"/><circle cx="79.500" cy="589" r="8.500"/><circle cx="115.500" cy="593" r="8.500"/><circle cx="88" cy="609.500" r="9"/><circle cx="109" cy="608" r="8.500"/><circle cx="97.500" cy="598" r="13"/></g>
<path d="M84,590C86,584 92,585 95,588C96,581 104,581 105,588C110,590 111,597 106,601C104,607 97,609 92,607C87,605 85,601 87,597C82,596 82,592 84,590Z" fill="#a0c85e"/>
<path d="M97,622.500L89,609M97,622.500L95,603M97,622.500L100,589M97,622.500L106,608M97,622.500L98,606" stroke="#1f5a34" stroke-width="2" stroke-linecap="round" fill="none"/>
<path d="M97,622.500L94.500,615M97,622.500L99.500,615" stroke="#b08a5a" stroke-width="1.300" stroke-linecap="round"/>
<g transform="translate(116.75,0)" fill="#0c2b80"><rect x="118" y="531" width="11" height="22"/><path d="M148.750,530L201.500,567L195.500,575L148.750,542L102,575L96,567Z"/><path d="M114.500,566L148.750,541L183,566V610Q183,614 179,614H118.500Q114.500,614 114.500,610Z"/><rect x="136" y="575.500" width="26" height="29.500" fill="#fff"/><rect x="145" y="614" width="6.500" height="14" fill="#1e96e8" stroke="#12264e" stroke-width="1.500"/></g>
<path d="M214.3,534.0C213.1,534.5 211.3,537.0 210.6,539.1C209.9,541.2 210.9,544.4 209.9,546.5C208.9,548.6 205.7,549.9 204.7,551.6C203.7,553.3 203.3,555.0 204.0,556.8C204.7,558.6 207.3,560.6 209.1,562.6C210.9,564.6 213.9,566.5 215.0,568.5C216.1,570.5 216.7,572.4 215.7,574.4C214.7,576.4 211.2,578.6 209.1,580.3C207.0,582.0 204.3,583.0 203.2,584.7C202.1,586.4 202.0,588.6 202.5,590.6C203.0,592.6 204.4,594.8 206.2,596.5C207.9,598.2 211.1,599.8 213.0,601.0C214.9,602.2 216.0,604.0 217.5,604.0C219.0,604.0 220.7,601.8 222.0,601.0C223.3,600.2 224.1,600.6 225.3,599.4C226.5,598.1 228.2,595.7 229.0,593.5C229.8,591.3 229.6,588.9 230.4,586.2C231.2,583.5 233.6,580.4 234.1,577.4C234.6,574.4 234.4,571.0 233.4,568.5C232.4,566.0 230.2,564.4 228.2,562.6C226.2,560.8 223.2,559.5 221.6,557.5C220.0,555.5 218.9,553.2 218.7,550.9C218.4,548.6 220.2,546.0 220.1,543.5C220.0,541.0 218.9,537.8 217.9,536.2C216.9,534.6 215.5,533.5 214.3,534.0Z" fill="#5a9f48" stroke="#1f5a34" stroke-width="1.800" stroke-linejoin="round"/>
<path d="M224.6,570.7C222.8,570.7 218.8,576.0 216.5,578.8C214.2,581.6 211.3,584.6 210.6,587.6C209.8,590.6 210.8,594.4 212.0,596.5C213.2,598.6 215.9,599.8 218.0,600.0C220.1,600.2 223.0,599.8 224.6,598.0C226.2,596.2 227.0,592.3 227.5,589.1C228.0,585.9 228.0,581.9 227.5,578.8C227.0,575.7 226.4,570.7 224.6,570.7Z" fill="#a9ca5e"/>
<path d="M217.300,612.500L212,599M217.300,612.500L224,599M217.300,612.500L217.800,604" stroke="#2a6a35" stroke-width="2.200" stroke-linecap="round" fill="none"/>
<rect x="99" y="629.500" width="14" height="13" fill="url(#gGlowL)"/><rect x="303" y="629.500" width="14" height="13" fill="url(#gGlowR)"/>
<rect x="113" y="630.500" width="190" height="11" fill="#1e96e8" stroke="#12264e" stroke-width="2"/>
<rect x="201.500" y="640" width="12.500" height="44" fill="#1e96e8" stroke="#12264e" stroke-width="2"/>
<g fill="#1f2a55"><rect x="111" y="627.500" width="6" height="17" rx="1"/><rect x="298.500" y="627.500" width="6" height="17" rx="1"/><rect x="197" y="627.500" width="21" height="15.500" rx="2"/><rect x="143.500" y="626" width="9.500" height="4"/><rect x="260.250" y="626" width="9.500" height="4"/><rect x="196" y="677.500" width="23" height="6" rx="1"/></g>
<use href="#arrs" transform="translate(173,636) rotate(180) scale(.8)"/><use href="#arrs" transform="translate(242,636) scale(.8)"/><use href="#arrs" transform="translate(207.500,661) rotate(-90) scale(.8)"/>
<rect x="78.500" y="665" width="8" height="20" fill="#fff" stroke="#111" stroke-width="2.200"/><rect x="75.200" y="660.200" width="14.600" height="4.600" rx="2.300" fill="#fff" stroke="#111" stroke-width="2.200"/>
<rect x="349.400" y="677.500" width="8.800" height="6" fill="#161a33"/>
<circle cx="353.800" cy="661.300" r="13.400" fill="#fff" stroke="#161a33" stroke-width="3.300"/>
<circle cx="353.800" cy="661.300" r="9.400" fill="none" stroke="#161a33" stroke-width="3" stroke-dasharray="1.250 2.441" transform="rotate(-5 353.800 661.300)"/>
<path d="M352.600,662L353.800,651.500L355,662Z" fill="#161a33" stroke="#161a33" stroke-width=".800" stroke-linejoin="round"/>
</g>
</svg>
</body></html>
